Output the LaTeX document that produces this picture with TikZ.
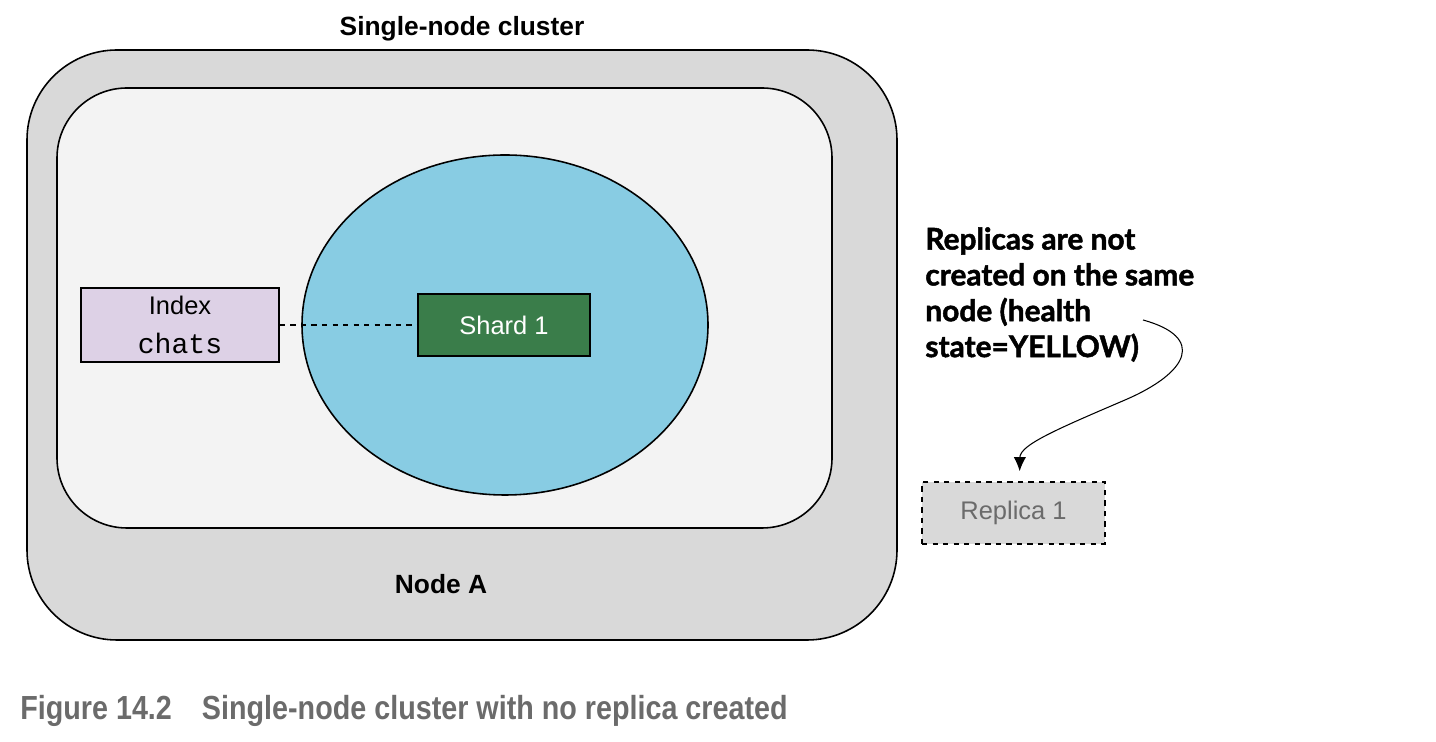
\documentclass[tikz,border=0pt]{standalone}
\usepackage{fontspec}
\setmainfont{Liberation Sans}
\setmonofont{Liberation Mono}
\newfontfamily\notefont{Lato}[BoldFeatures={FakeBold=1.6}]
\newfontfamily\capfont{Liberation Sans}[FakeStretch=0.86]
\usetikzlibrary{arrows.meta}

\definecolor{nodegray}{HTML}{D9D9D9}
\definecolor{innergray}{HTML}{F3F3F3}
\definecolor{shardblue}{HTML}{88CCE3}
\definecolor{indexlilac}{HTML}{DDD1E6}
\definecolor{shardgreen}{HTML}{3A7D4A}
\definecolor{captiongray}{HTML}{6B6B6B}

\begin{document}
\begin{tikzpicture}[
  box/.style={draw, line width=0.9pt, inner sep=0pt},
  label/.style={font=\fontsize{14.5}{17}\selectfont},
  boldlabel/.style={font=\fontsize{15}{18}\selectfont\bfseries}
]
\useasboundingbox (0,0) rectangle (28.72,14.84);

\draw[line width=0.9pt, fill=nodegray, rounded corners=1.8cm] (0.54,2.04) rectangle (17.94,13.84);
\draw[line width=0.9pt, fill=innergray, rounded corners=1.4cm] (1.14,4.28) rectangle (16.64,13.08);
\draw[line width=0.9pt, fill=shardblue] (10.1,8.34) ellipse (4.06 and 3.4);

\node[box, fill=indexlilac, minimum width=3.96cm, minimum height=1.48cm, align=center, label] (index) at (3.6,8.34)
  {Index\\[5pt]{\ttfamily\fontsize{16}{18}\selectfont chats}};
\node[box, fill=shardgreen, minimum width=3.44cm, minimum height=1.24cm, text=white, label] (shard) at (10.08,8.34) {Shard 1};
\draw[dashed, line width=0.8pt] (index.east) -- (shard.west);

\node[boldlabel] (cluster) at (9.24,14.26) {Single-node cluster};
\node[boldlabel] (nodea) at (8.82,3.16) {Node A};

\node[box, dashed, fill=nodegray, minimum width=3.66cm, minimum height=1.24cm, text=captiongray, label] (replica) at (20.27,4.58) {Replica 1};

\node[anchor=north west, align=left, inner sep=0pt, font=\notefont\bfseries\fontsize{17}{20.4}\selectfont] (note) at (18.5,10.3)
  {Replicas are not\\created on the same\\node (health\\state=YELLOW)};
\coordinate (notetail) at (22.86,8.44);
\draw[line width=0.6pt, -{Latex[length=8pt,width=7pt]}, shorten >=0.2cm] (notetail)
  .. controls (24.1,8.1) and (23.8,7.4) .. (22.5,6.84)
  .. controls (21.1,6.24) and (20.4,5.94) .. ([xshift=0.12cm]replica.north);

\node[anchor=base west, inner sep=0pt, text=captiongray, font=\capfont\bfseries\fontsize{19}{22}\selectfont] (caption) at (0.4,0.44)
  {Figure 14.2\hspace{0.9em}Single-node cluster with no replica created};
\end{tikzpicture}
\end{document}
